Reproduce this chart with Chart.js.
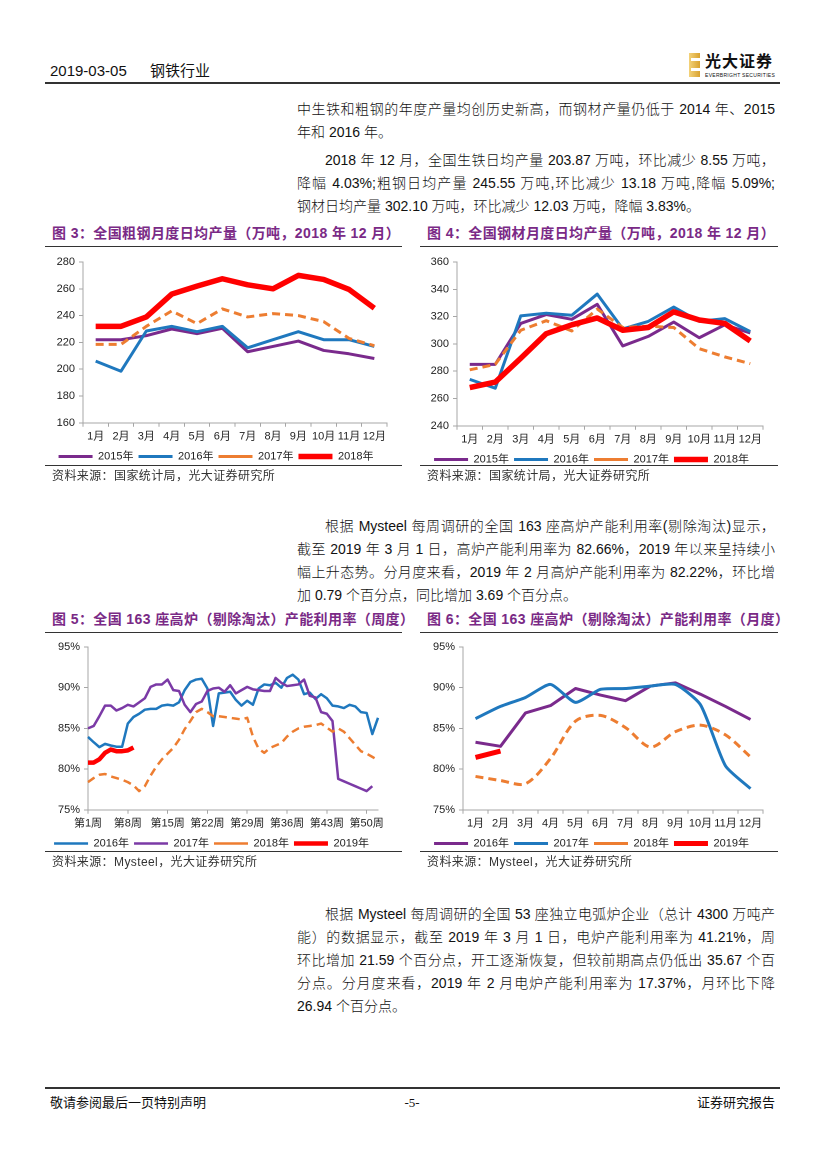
<!DOCTYPE html>
<html lang="zh-CN">
<head>
<meta charset="utf-8">
<title>钢铁行业 2019-03-05</title>
<script src="https://cdn.jsdelivr.net/npm/chart.js@4.4.1/dist/chart.umd.min.js"></script>
<style>
  body { margin: 0; background: #fff; }
  #page { position: relative; width: 827px; height: 1169px; overflow: hidden;
          font-family: "Liberation Sans", Arial, "Noto Sans CJK SC", sans-serif; color: #111; }
  .abs { position: absolute; }
  .txt { position: absolute; left: 297px; width: 478px; height: 23px; overflow: hidden;
         font-size: 14px; line-height: 23px; font-weight: 300; }
  .j { text-align: justify; text-align-last: justify; }
  .ind { left: 325px; width: 450px; }
  .ttl { position: absolute; font-size: 14px; font-weight: bold; color: #7A2A86; line-height: 18px;
         white-space: nowrap; letter-spacing: 0.4px; }
  .rule { position: absolute; height: 0; border-top: 1px solid #333; }
  .src { position: absolute; font-size: 12px; line-height: 16px; color: #333; letter-spacing: 0.4px; white-space: nowrap; }
  canvas { position: absolute; }
</style>
</head>
<body>
<div id="page">
  <!-- header -->
  <div class="abs" style="left:50px;top:62px;font-size:15px;line-height:18px;">2019-03-05</div>
  <div class="abs" style="left:150px;top:62px;font-size:15px;line-height:18px;">钢铁行业</div>
  <div class="abs" style="left:689px;top:53px;width:11px;height:24px;background:linear-gradient(90deg,#F3D27A,#D9A22E);"></div>
  <div class="abs" style="left:691px;top:58px;width:9px;height:3px;background:#fff;"></div>
  <div class="abs" style="left:691px;top:68px;width:9px;height:3px;background:#fff;"></div>
  <div class="abs" style="left:705px;top:53px;font-size:16px;font-weight:bold;line-height:18px;letter-spacing:1px;">光大证券</div>
  <div class="abs" style="left:705px;top:72px;font-size:5px;line-height:6px;letter-spacing:0.3px;">EVERBRIGHT SECURITIES</div>
  <div class="rule" style="left:45px;top:82px;width:735px;border-top:2px solid #333;"></div>

  <!-- paragraph 1/2 -->
  <div class="txt j" style="top:98px;">中生铁和粗钢的年度产量均创历史新高，而钢材产量仍低于 2014 年、2015</div>
  <div class="txt" style="top:121px;">年和 2016 年。</div>
  <div class="txt j ind" style="top:149px;">2018 年 12 月，全国生铁日均产量 203.87 万吨，环比减少 8.55 万吨，</div>
  <div class="txt j" style="top:172px;">降幅 4.03%;粗钢日均产量 245.55 万吨,环比减少 13.18 万吨,降幅 5.09%;</div>
  <div class="txt" style="top:195px;">钢材日均产量 302.10 万吨，环比减少 12.03 万吨，降幅 3.83%。</div>

  <!-- figure 3 / 4 -->
  <div class="ttl" style="left:52px;top:224px;">图 3：全国粗钢月度日均产量（万吨，2018 年 12 月）</div>
  <div class="ttl" style="left:427px;top:224px;">图 4：全国钢材月度日均产量（万吨，2018 年 12 月）</div>
  <div class="rule" style="left:45px;top:246px;width:357px;"></div>
  <div class="rule" style="left:420px;top:246px;width:358px;"></div>
  <canvas id="c3" width="360" height="222" style="left:45px;top:250px;"></canvas>
  <canvas id="c4" width="360" height="225" style="left:420px;top:250px;"></canvas>
  <div class="rule" style="left:45px;top:465px;width:357px;"></div>
  <div class="rule" style="left:420px;top:465px;width:358px;"></div>
  <div class="src" style="left:52px;top:468px;">资料来源：国家统计局，光大证券研究所</div>
  <div class="src" style="left:427px;top:468px;">资料来源：国家统计局，光大证券研究所</div>

  <!-- paragraph 3 -->
  <div class="txt j ind" style="top:515px;">根据 Mysteel 每周调研的全国 163 座高炉产能利用率(剔除淘汰)显示，</div>
  <div class="txt j" style="top:538px;">截至 2019 年 3 月 1 日，高炉产能利用率为 82.66%，2019 年以来呈持续小</div>
  <div class="txt j" style="top:561px;">幅上升态势。分月度来看，2019 年 2 月高炉产能利用率为 82.22%，环比增</div>
  <div class="txt" style="top:584px;">加 0.79 个百分点，同比增加 3.69 个百分点。</div>

  <!-- figure 5 / 6 -->
  <div class="ttl" style="left:52px;top:610px;">图 5：全国 163 座高炉（剔除淘汰）产能利用率（周度）</div>
  <div class="ttl" style="left:427px;top:610px;">图 6：全国 163 座高炉（剔除淘汰）产能利用率（月度）</div>
  <div class="rule" style="left:45px;top:632px;width:357px;"></div>
  <div class="rule" style="left:420px;top:632px;width:358px;"></div>
  <canvas id="c5" width="360" height="224" style="left:45px;top:635px;"></canvas>
  <canvas id="c6" width="360" height="224" style="left:420px;top:635px;"></canvas>
  <div class="rule" style="left:45px;top:851px;width:357px;"></div>
  <div class="rule" style="left:420px;top:851px;width:358px;"></div>
  <div class="src" style="left:52px;top:854px;">资料来源：Mysteel，光大证券研究所</div>
  <div class="src" style="left:427px;top:854px;">资料来源：Mysteel，光大证券研究所</div>

  <!-- paragraph 4 -->
  <div class="txt j ind" style="top:903px;">根据 Mysteel 每周调研的全国 53 座独立电弧炉企业（总计 4300 万吨产</div>
  <div class="txt j" style="top:926px;">能）的数据显示，截至 2019 年 3 月 1 日，电炉产能利用率为 41.21%，周</div>
  <div class="txt j" style="top:949px;">环比增加 21.59 个百分点，开工逐渐恢复，但较前期高点仍低出 35.67 个百</div>
  <div class="txt j" style="top:972px;">分点。分月度来看，2019 年 2 月电炉产能利用率为 17.37%，月环比下降</div>
  <div class="txt" style="top:995px;">26.94 个百分点。</div>

  <!-- footer -->
  <div class="rule" style="left:45px;top:1087px;width:735px;border-top:2px solid #333;"></div>
  <div class="abs" style="left:50px;top:1095px;font-size:13px;line-height:16px;">敬请参阅最后一页特别声明</div>
  <div class="abs" style="left:400px;top:1095px;font-size:13px;line-height:16px;width:24px;text-align:center;font-family:'Liberation Serif',serif;">-5-</div>
  <div class="abs" style="left:675px;top:1095px;font-size:13px;line-height:16px;width:100px;text-align:right;">证券研究报告</div>
</div>

<script>
// categories
const months = ['1月','2月','3月','4月','5月','6月','7月','8月','9月','10月','11月','12月'];
const weeks = Array.from({ length: 52 }, (v, i) => '第' + (i + 1) + '周');

// fig 3: crude steel daily output (10k t)
const crude2015 = [222, 222, 225, 230, 226.5, 230.5, 213, 217, 221, 214, 211.5, 208];
const crude2016 = [206, 198.5, 228.5, 232, 228, 232, 216, 222, 228, 222, 222, 217];
const crude2017 = [218.5, 218.5, 232, 243.5, 234, 245, 239, 241.5, 240, 235.5, 223, 217.5];
const crude2018 = [232, 232, 239, 256, 262, 267.5, 263, 260, 270, 267, 259.5, 245.55];

// fig 4: finished steel daily output (10k t)
const steel2015 = [285, 285, 315, 321.5, 318, 329, 298.5, 305.5, 316, 304.5, 314, 308];
const steel2016 = [274, 267.5, 320.5, 322.5, 321, 336.5, 311, 316.5, 327, 316.5, 318.5, 309];
const steel2017 = [281, 285, 310, 317, 309.5, 325.5, 312, 313, 312, 296.5, 290.5, 285.5];
const steel2018 = [268, 272, 289.5, 307.5, 314, 319, 310, 312, 323.5, 317.5, 315, 302.1];

// fig 5: blast furnace utilisation, weekly (%)
const wk2016 = [83.95, 83.3, 82.7, 83.1, 82.9, 82.75, 82.75, 85.6, 86.4, 86.8,
                87.3, 87.4, 87.4, 87.8, 87.9, 87.8, 88.2, 89.7, 90.7, 91.0,
                91.1, 89.9, 85.3, 89.3, 89.4, 89.5, 88.5, 87.8, 88.4, 87.9,
                89.9, 90.4, 90.3, 90.6, 90.0, 91.2, 91.6, 91.0, 89.2, 89.4,
                88.6, 89.2, 88.7, 87.8, 87.7, 87.5, 87.9, 87.7, 87.0, 86.9,
                84.3, 86.3];
const wk2017 = [85.0, 85.3, 86.5, 87.8, 87.8, 87.2, 87.5, 87.9, 87.7, 88.2,
                88.7, 90.1, 90.4, 90.4, 91.0, 89.7, 89.6, 87.9, 87.0, 88.0,
                88.3, 89.6, 89.9, 90.0, 89.5, 90.3, 89.3, 89.7, 90.1, 89.8,
                89.7, 89.6, 89.6, 91.2, 90.6, 90.2, 90.3, 90.4, 91.0, 89.0,
                88.8, 87.0, 86.8, 85.9, 78.8, 78.5, 78.2, 77.9, 77.6, 77.3,
                77.9];
const wk2018 = [78.4, 78.9, 79.3, 79.4, 79.1, 78.9, 78.7, 78.4, 78.0, 77.3,
                77.9, 79.2, 80.3, 81.2, 81.9, 82.6, 83.6, 84.9, 85.9, 87.0,
                87.4, 87.0, 86.5, 86.5, 86.4, 86.3, 86.2, 86.1, 86.3, 84.0,
                82.5, 82.0, 82.6, 82.9, 83.2, 84.0, 84.6, 85.0, 85.2, 85.3,
                85.4, 85.6, 85.1, 84.6, 85.0, 84.6, 83.8, 83.0, 82.2, 81.9,
                81.5, 81.1];
const wk2019 = [80.8, 80.8, 81.2, 82.0, 82.4, 82.2, 82.2, 82.3, 82.66];

// fig 6: blast furnace utilisation, monthly (%)
const bf2016 = [83.3, 82.8, 86.9, 87.8, 89.9, 89.1, 88.4, 90.2, 90.6, 89.2, 87.7, 86.1];
const bf2017 = [86.2, 87.7, 88.8, 90.4, 88.2, 89.8, 89.9, 90.2, 90.4, 87.9, 80.4, 77.6];
const bf2018 = [79.1, 78.6, 78.2, 81.3, 85.9, 86.6, 85.1, 82.7, 84.6, 85.4, 84.2, 81.5];
const bf2019 = [81.43, 82.22];

const PURPLE = '#7A2A8C';
const PURPLE2 = '#7B3AA6';
const BLUE = '#1F78BE';
const ORANGE = '#ED7D31';
const RED = '#FF0000';
const AXIS = '#a6a6a6';
const FONT = { family: '"Liberation Sans", Arial, "Noto Sans CJK SC", sans-serif', size: 11 };

function line(label, data, color, width, dashed, tension) {
  return {
    label: label,
    data: data,
    borderColor: color,
    backgroundColor: color,
    borderWidth: width,
    borderDash: dashed ? [8, 5] : [],
    borderJoinStyle: 'round',
    pointRadius: 0,
    pointHoverRadius: 0,
    tension: tension || 0,
    fill: false
  };
}

function buildChart(id, labels, datasets, cfg) {
  // later datasets drawn on top, legend kept in original order
  datasets.forEach((d, i) => { d.order = datasets.length - i; });
  return new Chart(document.getElementById(id), {
    type: 'line',
    data: { labels: labels, datasets: datasets },
    options: {
      responsive: false,
      devicePixelRatio: 2,
      animation: false,
      layout: { padding: { top: 12, right: cfg.right, left: 0, bottom: 0 } },
      plugins: {
        tooltip: { enabled: false },
        legend: {
          position: 'bottom',
          reverse: true,
          labels: {
            usePointStyle: true,
            pointStyle: 'line',
            pointStyleWidth: 34,
            padding: 5,
            color: '#222',
            font: { family: FONT.family, size: 11 }
          }
        }
      },
      scales: {
        x: {
          offset: cfg.offset,
          grid: { drawOnChartArea: false, drawTicks: true, tickLength: 4, color: AXIS, offset: cfg.offset },
          border: { color: AXIS },
          ticks: {
            autoSkip: false,
            maxRotation: 0,
            padding: 3,
            color: '#222',
            font: FONT,
            callback: cfg.xcb || function (v) { return this.getLabelForValue(v); }
          }
        },
        y: {
          min: cfg.min,
          max: cfg.max,
          grid: { drawOnChartArea: false, drawTicks: true, tickLength: 4, color: AXIS },
          border: { color: AXIS },
          ticks: {
            stepSize: cfg.step,
            padding: 4,
            color: '#222',
            font: FONT,
            callback: v => v + (cfg.suffix || '')
          },
          afterFit: s => { s.width = cfg.yw; }
        }
      }
    }
  });
}

buildChart('c3', months, [
  line('2015年', crude2015, PURPLE, 3),
  line('2016年', crude2016, BLUE, 3),
  line('2017年', crude2017, ORANGE, 3, true),
  line('2018年', crude2018, RED, 5.5)
], { min: 160, max: 280, step: 20, yw: 38, right: 18, offset: true });

buildChart('c4', months, [
  line('2015年', steel2015, PURPLE, 3),
  line('2016年', steel2016, BLUE, 3),
  line('2017年', steel2017, ORANGE, 3, true),
  line('2018年', steel2018, RED, 5.5)
], { min: 240, max: 360, step: 20, yw: 37, right: 17, offset: true });

buildChart('c5', weeks, [
  line('2016年', wk2016, BLUE, 2.5),
  line('2017年', wk2017, PURPLE2, 2.5),
  line('2018年', wk2018, ORANGE, 2.5, true),
  line('2019年', wk2019, RED, 4.5)
], {
  min: 75, max: 95, step: 5, suffix: '%', yw: 43, right: 27, offset: false,
  xcb: function (v, i) { return i % 7 === 0 ? this.getLabelForValue(v) : null; }
});

buildChart('c6', months, [
  line('2016年', bf2016, PURPLE, 3),
  line('2017年', bf2017, BLUE, 3, false, 0.2),
  line('2018年', bf2018, ORANGE, 3, true, 0.3),
  line('2019年', bf2019, RED, 5)
], { min: 75, max: 95, step: 5, suffix: '%', yw: 43, right: 17, offset: true });
</script>
</body>
</html>
